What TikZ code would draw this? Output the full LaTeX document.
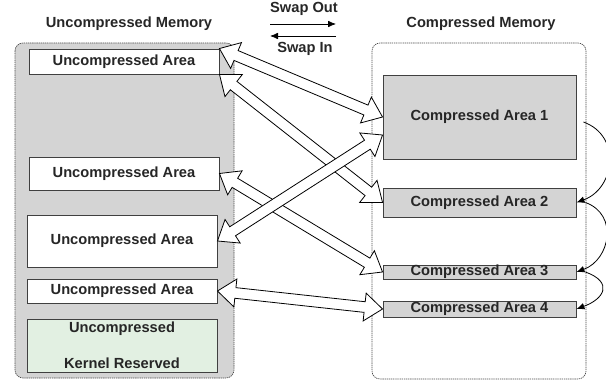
\documentclass[tikz,border=0pt]{standalone}
\usepackage{fontspec}
\setmainfont{Liberation Sans}
\usepackage{xcolor}
\usetikzlibrary{arrows.meta,calc}
\definecolor{memgray}{RGB}{212,212,212}
\definecolor{kerngreen}{RGB}{226,240,226}
\definecolor{inkgray}{RGB}{38,38,38}

\begin{document}
\begin{tikzpicture}[x=0.75pt,y=-0.75pt,font=\fontsize{11}{13}\selectfont\bfseries,text=inkgray,
  mem/.style={draw=black!70,line width=0.5pt,dash pattern=on 1pt off 0.6pt,rounded corners=6pt},
  area/.style={draw=black!75,line width=0.7pt,inner sep=0pt},
  ua/.style={area,fill=white,minimum width=142.5pt},
  ca/.style={area,fill=memgray,minimum width=144.75pt},
  link/.style={black,line width=0.6pt,-{Latex[length=6pt,width=5pt]}},
  swap/.style={draw=black,fill=white,line width=0.6pt,
    to path={let \p1=(\tikztostart), \p2=(\tikztotarget), \n1={atan2(\y2-\y1,\x2-\x1)} in
      (\p1) -- ($(\p1)+(\n1:13.5pt)+(\n1+90:10.5pt)$) -- ($(\p1)+(\n1:13.5pt)+(\n1+90:4pt)$)
      -- ($(\p2)+(\n1:-13.5pt)+(\n1+90:4pt)$) -- ($(\p2)+(\n1:-13.5pt)+(\n1+90:10.5pt)$) -- (\p2)
      -- ($(\p2)+(\n1:-13.5pt)+(\n1-90:10.5pt)$) -- ($(\p2)+(\n1:-13.5pt)+(\n1-90:4pt)$)
      -- ($(\p1)+(\n1:13.5pt)+(\n1-90:4pt)$) -- ($(\p1)+(\n1:13.5pt)+(\n1-90:10.5pt)$) -- cycle}}]
        \useasboundingbox (0,0) rectangle (606,381);
        % memories
        \draw[mem,fill=memgray] (15,43) rectangle (234,378);
        \draw[mem,fill=white] (372,43) rectangle (586,379);
        \node (umem) at (129,24) {Uncompressed Memory};
        \node (cmem) at (481,24) {Compressed Memory};
        % swap legend
        \node (swapout) at (304,9) {Swap Out};
        \node (swapin) at (305,49) {Swap In};
        \coordinate (outl) at (270,24);
        \coordinate (outr) at (336,24);
        \coordinate (inl) at (270,36);
        \coordinate (inr) at (336,36);
        \draw[link] (outl) -- (outr);
        \draw[link] (inr) -- (inl);
        % uncompressed areas
        \node[ua,minimum height=18.75pt] (ua1) at (124,61.5) {Uncompressed Area};
        \node[ua,minimum height=24.75pt] (ua2) at (124,173.5) {Uncompressed Area};
        \node[ua,minimum height=39pt] (ua3) at (122,241) {Uncompressed Area};
        \node[ua,minimum height=18pt] (ua4) at (122,291) {Uncompressed Area};
        \node[ua,fill=kerngreen,minimum height=39.75pt,align=center] (kern) at (122,345.5) {Uncompressed\\[14pt]Kernel Reserved};
        % compressed areas
        \node[ca,minimum height=63pt] (ca1) at (479.5,117) {Compressed Area 1};
        \node[ca,minimum height=21.75pt] (ca2) at (479.5,202.5) {Compressed Area 2};
        \node[ca,minimum height=10.5pt] (ca3) at (479.5,272) {Compressed Area 3};
        \node[ca,minimum height=12pt] (ca4) at (479.5,309) {Compressed Area 4};
        \coordinate (ca1low) at ($(ca1.west)+(0,18)$);
        % chain of compressed areas
        \draw[link] ($(ca1.east)+(7,5)$) to[out=-20,in=20,looseness=1.3] (ca2.east);
        \draw[link] ($(ca2.east)+(9,0)$) to[out=-20,in=20,looseness=1.3] (ca3.east);
        \draw[link] ($(ca3.east)+(9,0)$) to[out=-20,in=20,looseness=2] (ca4.east);
        % swapping
        \path
          (ua1.north east) edge[swap] (ca1.west)
          (ua1.south east) edge[swap] (ca2.west)
          (ua2.east) edge[swap] (ca3.west)
          (ua3.east) edge[swap] (ca1low)
          (ua4.east) edge[swap] (ca4.west);
      \end{tikzpicture}
\end{document}
